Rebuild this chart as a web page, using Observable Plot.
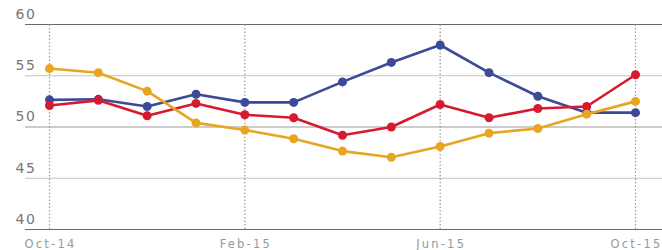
<!DOCTYPE html>
<html>
<head>
<meta charset="utf-8">
<script src="https://cdn.jsdelivr.net/npm/d3@7"></script>
<script src="https://cdn.jsdelivr.net/npm/@observablehq/plot@0.6"></script>
<style>
  html, body { margin: 0; padding: 0; background: #fff; }
  #chart svg { display: block; }
  #chart g[aria-label="x-axis tick label"] text { letter-spacing: 2.2px; }
  #chart g[aria-label="y-axis tick label"] text { letter-spacing: 1.5px; }
</style>
</head>
<body>
<div id="chart"></div>
<script>
const months = ["Oct-14","Nov-14","Dec-14","Jan-15","Feb-15","Mar-15","Apr-15","May-15","Jun-15","Jul-15","Aug-15","Sep-15","Oct-15"];
const blueValues   = [52.65, 52.7, 52.0, 53.2, 52.4, 52.4, 54.4, 56.3, 58.0, 55.3, 53.0, 51.4, 51.4];
const redValues    = [52.1, 52.6, 51.1, 52.3, 51.2, 50.9, 49.2, 50.0, 52.2, 50.9, 51.8, 52.0, 55.1];
const orangeValues = [55.7, 55.3, 53.5, 50.4, 49.7, 48.85, 47.65, 47.05, 48.1, 49.4, 49.85, 51.25, 52.5];
const yTicks = [40, 45, 50, 55, 60];
const xTickLabels = ["Oct-14", "Feb-15", "Jun-15", "Oct-15"];

const seriesList = [
  {name: "blue", color: "#3c4a97", values: blueValues},
  {name: "red", color: "#d71a30", values: redValues},
  {name: "orange", color: "#e8a522", values: orangeValues}
];
const rows = seriesList.flatMap(s => s.values.map((v, i) => ({series: s.name, month: months[i], value: v})));
const colorOf = Object.fromEntries(seriesList.map(s => [s.name, s.color]));

const gridColor = v => (v === 40 || v === 60) ? "#6a6a6a" : (v === 50 ? "#9a9a9a" : "#c4c4c4");

const chart = Plot.plot({
  width: 662,
  height: 250,
  marginLeft: 25,
  marginRight: 0,
  marginTop: 24,
  marginBottom: 21,
  style: {fontFamily: "'DejaVu Sans', sans-serif", background: "#fff"},
  x: {type: "point", domain: months, range: [49, 635], padding: 0, round: false, label: null},
  y: {domain: [40, 60], range: [229, 24], label: null},
  marks: [
    Plot.ruleY(yTicks, {y: d => d, stroke: d => gridColor(d), strokeWidth: 1.2}),
    Plot.ruleX(xTickLabels, {x: d => d, y1: 40, y2: 60, stroke: "#9a9a9a", strokeDasharray: "1.5,2", strokeWidth: 1.2}),
    Plot.axisY(yTicks, {anchor: "left", label: null, tickSize: 0, tickPadding: 0, textAnchor: "start", dx: -10, dy: -10, fontSize: 14, fill: "#777", tickFormat: d => String(d)}),
    Plot.axisX(xTickLabels, {anchor: "bottom", label: null, tickSize: 0, tickPadding: 10, dx: 1, fontSize: 11.5, fill: "#999"}),
    ...seriesList.flatMap(s => [
      Plot.line(rows.filter(r => r.series === s.name), {x: "month", y: "value", stroke: colorOf[s.name], strokeWidth: 2.6}),
      Plot.dot(rows.filter(r => r.series === s.name), {x: "month", y: "value", fill: colorOf[s.name], r: 4.5})
    ])
  ]
});
document.getElementById("chart").appendChild(chart);
</script>
</body>
</html>
